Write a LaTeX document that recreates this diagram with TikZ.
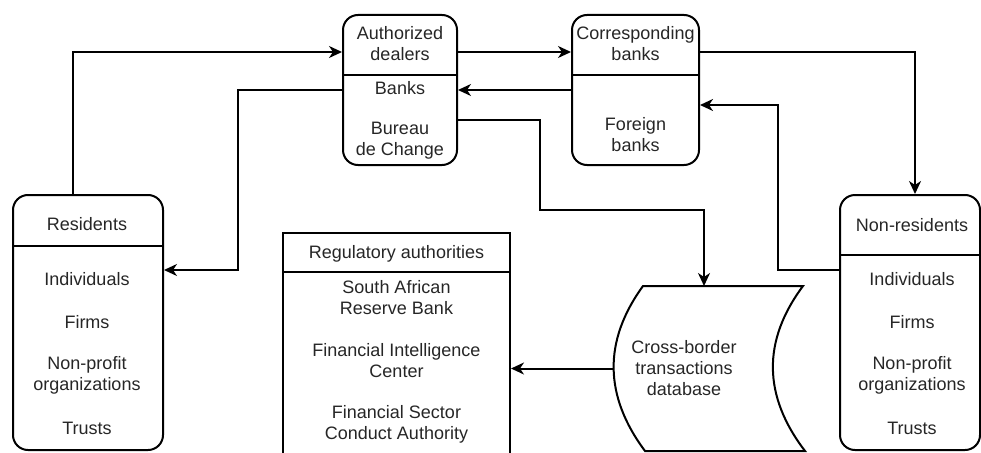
\documentclass[tikz,border=0pt]{standalone}
\usepackage{fontspec}
\setmainfont{Liberation Sans}
\usetikzlibrary{arrows.meta,calc}

\tikzset{
  panel/.style={draw, line width=2pt, rounded corners=15pt, inner sep=0pt},
  plainpanel/.style={draw, line width=2pt, inner sep=0pt},
  label/.style={align=center, text=black!85, inner sep=0pt,
    font=\fontsize{18}{21}\selectfont},
  link/.style={line width=2pt, -{Stealth[length=13pt,width=12pt,inset=4pt]}},
  rule/.style={line width=2pt},
}

\begin{document}
\begin{tikzpicture}[x=1pt,y=-1pt]
\useasboundingbox (0,0) rectangle (981,452);

% ---- containers ----
\node[panel, minimum width=114pt, minimum height=150pt] (auth) at (400,90) {};
\node[panel, minimum width=127pt, minimum height=150pt] (corr) at (635.5,90) {};
\node[panel, minimum width=150pt, minimum height=255pt] (res) at (88,322.5) {};
\node[panel, minimum width=140pt, minimum height=255pt] (nonres) at (910,322.5) {};
\node[plainpanel, minimum width=227pt, minimum height=237pt] (reg) at (396.5,351.5) {};

% ---- header dividers ----
\draw[rule] (auth.west |- 0,75) -- (auth.east |- 0,75);
\draw[rule] (corr.west |- 0,75) -- (corr.east |- 0,75);
\draw[rule] (res.west |- 0,246) -- (res.east |- 0,246);
\draw[rule] (nonres.west |- 0,255) -- (nonres.east |- 0,255);
\draw[rule] (reg.west |- 0,272) -- (reg.east |- 0,272);

% ---- stored-data symbol ----
\coordinate (dbtop) at (704,286);
\coordinate (dbleft) at (613,368.5);
\draw[rule, line join=miter]
  (643,286) -- (803,286)
  .. controls (762,341) and (763,396) .. (805,451)
  -- (645,451)
  .. controls (604,396) and (603,341) .. (643,286) -- cycle;

% ---- texts ----
\node[label] (authT) at (400,44) {Authorized\\dealers};
\node[label] (authA) at (400,88) {Banks};
\node[label] (authB) at (400,141) {Bureau\\de Change};

\node[label] (corrT) at (635.5,44) {Corresponding\\banks};
\node[label] (corrA) at (635.5,135) {Foreign\\banks};

\node[label] (resT) at (87,224) {Residents};
\node[label] (resA) at (87,279) {Individuals};
\node[label] (resB) at (87,322) {Firms};
\node[label] (resC) at (87,375) {Non-profit\\organizations};
\node[label] (resD) at (87,428) {Trusts};

\node[label] (nonT) at (912,225) {Non-residents};
\node[label] (nonA) at (912,279) {Individuals};
\node[label] (nonB) at (912,322) {Firms};
\node[label] (nonC) at (912,375) {Non-profit\\organizations};
\node[label] (nonD) at (912,428) {Trusts};

\node[label] (regT) at (396.5,254) {Regulatory authorities};
\node[label] (regA) at (396.5,297.5) {South African\\Reserve Bank};
\node[label] (regB) at (396.5,361) {Financial Intelligence\\Center};
\node[label] (regC) at (396.5,424.5) {Financial Sector\\Conduct Authority};

\node[label] (db) at (684,368) {Cross-border\\transactions\\database};

% ---- connectors ----
\draw[link] ([xshift=-15pt]res.north) |- ([yshift=38pt]auth.west);
\draw[link] (auth.west) -- ++(-104pt,0) |- ([yshift=52.5pt]res.east);
\draw[link] ([yshift=38pt]auth.east) -- ([yshift=38pt]corr.west);
\draw[link] (corr.west) -- (auth.east);
\draw[link] ([yshift=38pt]corr.east) -| ([xshift=5pt]nonres.north);
\draw[link] ([yshift=52.5pt]nonres.west) -- ++(-61pt,0) |- ([yshift=-15pt]corr.east);
\draw[link] ([yshift=-30pt]auth.east) -- ++(82pt,0) -- ++(0,-90pt) -| (dbtop);
\draw[link] (dbleft) -- (dbleft -| reg.east);

\end{tikzpicture}
\end{document}
